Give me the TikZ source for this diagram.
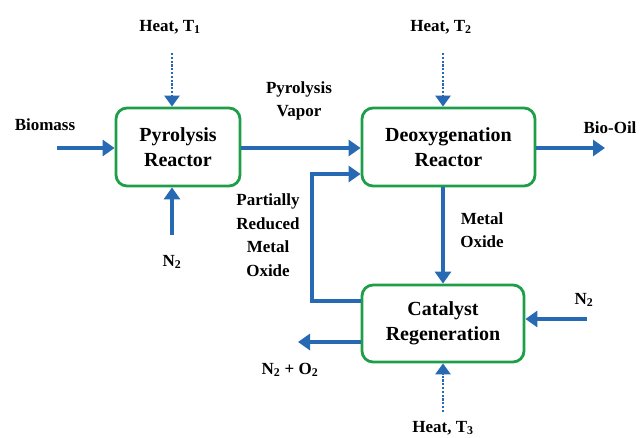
\documentclass[tikz,border=0pt]{standalone}
\usepackage{fontspec}
\setmainfont{Liberation Serif}
\usetikzlibrary{arrows.meta}
\definecolor{flowblue}{RGB}{40,105,180}
\definecolor{boxgreen}{RGB}{30,158,72}
\begin{document}
\begin{tikzpicture}[x=1pt,y=-1pt,
  unitbox/.style={draw=boxgreen, line width=2.8pt, rounded corners=11pt, align=center,
    font=\fontsize{20}{25}\selectfont\bfseries, inner sep=0pt},
  lbl/.style={font=\fontsize{17}{23.5}\selectfont\bfseries, align=center, inner sep=0pt},
  flow/.style={draw=flowblue, line width=3.1pt, line join=miter,
    -{Triangle[length=12pt,width=16pt]}, fill=none},
  heatflow/.style={flow, line width=2.6pt, dash pattern=on 2.2pt off 1.6pt,
    -{Triangle[length=11pt,width=15pt]}}]
\useasboundingbox (0,0) rectangle (640,437);
% boxes
\node[unitbox, minimum width=124pt, minimum height=78pt] (pyro) at (178,147) {Pyrolysis\\Reactor};
\node[unitbox, minimum width=173pt, minimum height=78pt] (deox) at (448.5,147) {Deoxygenation\\Reactor};
\node[unitbox, minimum width=162pt, minimum height=77pt] (cat) at (443,323.5) {Catalyst\\Regeneration};
% labels
\node[lbl] (biomass) at (45,125) {Biomass};
\node[lbl] (heat1) at (170,27) {Heat, T\textsubscript{1}};
\node[lbl] (heat2) at (441,27) {Heat, T\textsubscript{2}};
\node[lbl] (heat3) at (443,428) {Heat, T\textsubscript{3}};
\node[lbl] (n2a) at (172,262) {N\textsubscript{2}};
\node[lbl] (n2b) at (584,300) {N\textsubscript{2}};
\node[lbl] (vapor) at (299,101) {Pyrolysis\\Vapor};
\node[lbl] (biooil) at (610,128) {Bio-Oil};
\node[lbl] (moxide) at (482,230) {Metal\\Oxide};
\node[lbl] (prmo) at (268,235) {Partially\\Reduced\\Metal\\Oxide};
\node[lbl] (n2o2) at (290,370) {N\textsubscript{2} + O\textsubscript{2}};
% coordinates
\coordinate (bioS) at (57,148);
\coordinate (h1) at (172,53);
\coordinate (h2) at (443,53);
\coordinate (h3) at (443,412);
\coordinate (n2aS) at (172,235);
\coordinate (oilE) at (605,148);
\coordinate (r1) at (312,301);
\coordinate (r2) at (312,174);
\coordinate (n2bS) at (587,319);
\coordinate (outE) at (298,342);
% connectors
\draw[flow] (bioS) -- (bioS -| pyro.west);
\draw[heatflow] (h1) -- (h1 |- pyro.north);
\draw[flow] (n2aS) -- (n2aS |- pyro.south);
\draw[flow] (bioS -| pyro.east) -- (bioS -| deox.west);
\draw[heatflow] (h2) -- (h2 |- deox.north);
\draw[flow] (oilE -| deox.east) -- (oilE);
\draw[flow] (cat.north |- deox.south) -- (cat.north);
\draw[flow] (r1 -| cat.west) -- (r1) -- (r2) -- (r2 -| deox.west);
\draw[flow] (n2bS) -- (n2bS -| cat.east);
\draw[flow] (outE -| cat.west) -- (outE);
\draw[heatflow] (h3) -- (cat.south);
\end{tikzpicture}
\end{document}
